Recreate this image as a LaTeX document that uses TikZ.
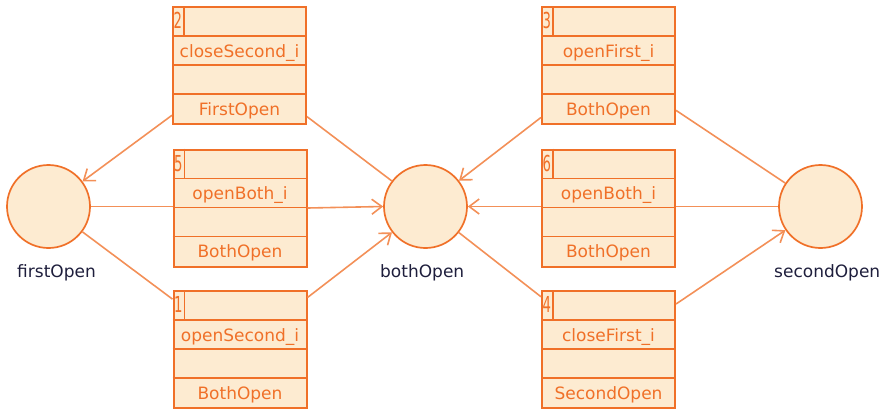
\documentclass[tikz,border=0pt]{standalone}
\usepackage{fontspec}
\setmainfont{DejaVu Sans}
\usetikzlibrary{arrows.meta}
\definecolor{boxc}{HTML}{F07028}
\definecolor{arcc}{HTML}{F39058}
\definecolor{fillc}{HTML}{FDEBD1}
\definecolor{txtc}{HTML}{F07028}
\definecolor{labc}{HTML}{1E1E3C}
\tikzset{
  trans/.style={rectangle, draw=boxc, fill=fillc, line width=2pt, minimum width=133pt, minimum height=117pt, inner sep=0pt},
  divl/.style={draw=boxc, line width=1.8pt},
  place/.style={circle, draw=boxc, fill=fillc, line width=1.7pt, minimum size=83pt, inner sep=0pt},
  arcline/.style={draw=arcc, line width=1.6pt},
  outarc/.style={arcline, -{Straight Barb[length=10pt,width=15pt,line width=1.6pt]}},
  boxtxt/.style={text=txtc, font=\fontsize{17}{19}\selectfont, inner sep=0pt, anchor=base},
  numtxt/.style={text=txtc, font=\fontsize{22}{24}\selectfont, inner sep=0pt, anchor=base west},
  labtxt/.style={text=labc, font=\fontsize{17}{19}\selectfont, inner sep=0pt, anchor=base},
}
\newcommand\mktrans[6]{%
  \node[trans] (#1) at (#2,#3) {};
  \draw[divl] ([yshift=-30pt]#1.north west) -- ([yshift=-30pt]#1.north east);
  \draw[divl] ([yshift=-59pt]#1.north west) -- ([yshift=-59pt]#1.north east);
  \draw[divl] ([yshift=-88pt]#1.north west) -- ([yshift=-88pt]#1.north east);
  \draw[divl] ([xshift=12pt]#1.north west) -- ([xshift=12pt,yshift=-30pt]#1.north west);
  \node[numtxt] (#1n) at ([xshift=1.5pt,yshift=-22.5pt]#1.north west) {\scalebox{0.6}[1]{#4}};
  \node[boxtxt] (#1l) at ([yshift=-51pt]#1.north) {#5};
  \node[boxtxt] (#1s) at ([yshift=-109pt]#1.north) {#6};
}
\begin{document}
\begin{tikzpicture}[x=1pt,y=-1pt]
\useasboundingbox (0,0) rectangle (884,408);
% places
\node[place] (p1) at (48.5,206.5) {};
\node[place] (p2) at (425.5,206.5) {};
\node[place] (p3) at (820.5,206.5) {};
% transitions
\mktrans{t2}{239.5}{65.5}{2}{closeSecond\_i}{FirstOpen}
\mktrans{t5}{240}{208}{5}{openBoth\_i}{BothOpen}
\mktrans{t1}{240}{349.5}{1}{openSecond\_i}{BothOpen}
\mktrans{t3}{608.5}{65.5}{3}{openFirst\_i}{BothOpen}
\mktrans{t6}{608.5}{208}{6}{openBoth\_i}{BothOpen}
\mktrans{t4}{608.5}{349.5}{4}{closeFirst\_i}{SecondOpen}
% arcs
\draw[arcline] (p2) -- (t2);
\draw[outarc] (t2) -- (p1);
\draw[arcline] (p1.east) -- (t5.west |- p1.east);
\draw[outarc] (t5.east) -- (p2.west);
\draw[arcline] (p1) -- (t1);
\draw[outarc] (t1) -- (p2);
\draw[arcline] (p3) -- (t3);
\draw[outarc] (t3) -- (p2);
\draw[arcline] (p3.west) -- (t6.east |- p3.west);
\draw[outarc] (t6.west |- p2.east) -- (p2.east);
\draw[arcline] (p2) -- (t4);
\draw[outarc] (t4) -- (p3);
% labels
\node[labtxt, anchor=base west] (l1) at (17,277) {firstOpen};
\node[labtxt, anchor=base west] (l2) at (380,277) {bothOpen};
\node[labtxt, anchor=base west] (l3) at (774,277) {secondOpen};
\end{tikzpicture}
\end{document}
